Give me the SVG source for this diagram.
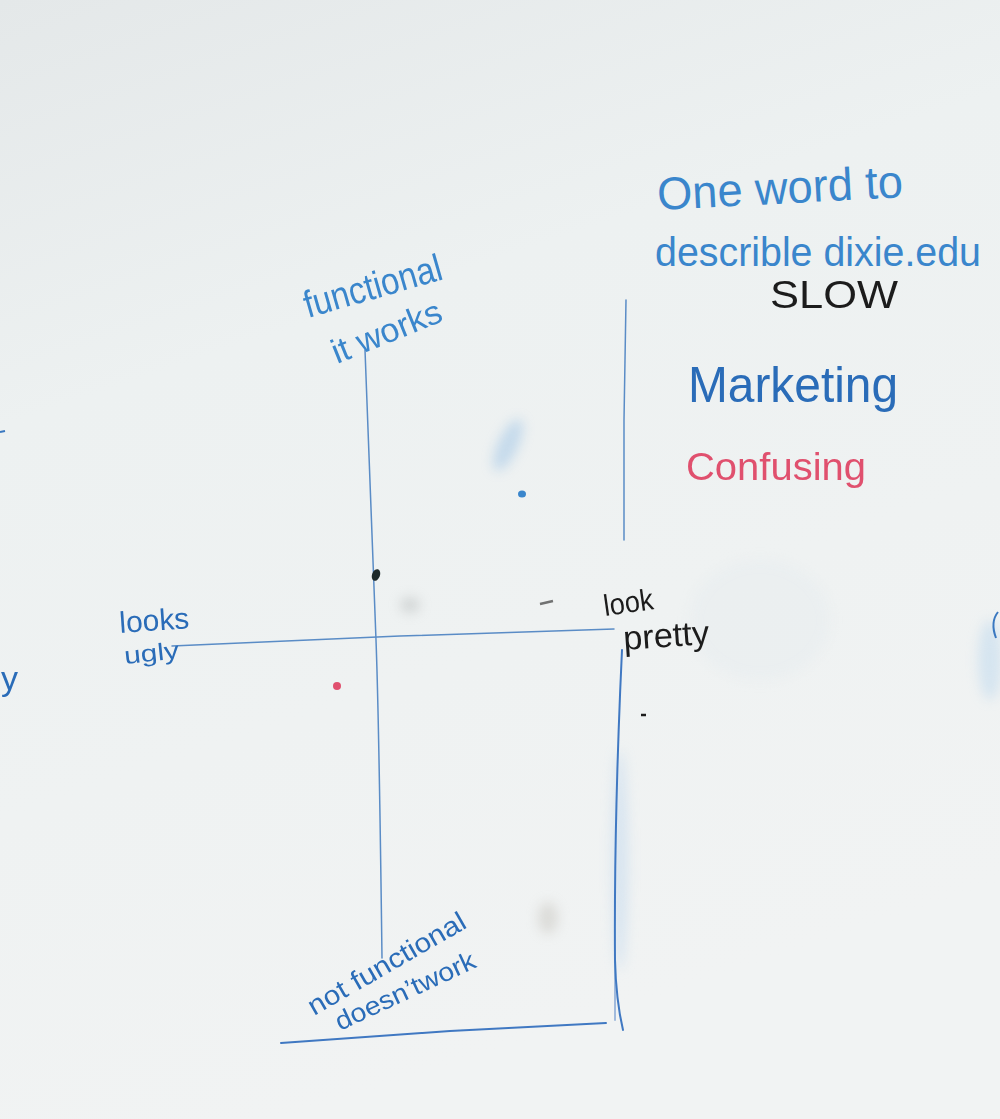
<svg xmlns="http://www.w3.org/2000/svg" width="1000" height="1119" viewBox="0 0 1000 1119">
  <defs>
    <linearGradient id="board" x1="0" y1="0" x2="0.3" y2="1">
      <stop offset="0" stop-color="#e4e8e9"/>
      <stop offset="0.35" stop-color="#edf1f1"/>
      <stop offset="1" stop-color="#f1f3f3"/>
    </linearGradient>
    <filter id="smudge" x="-50%" y="-50%" width="200%" height="200%">
      <feGaussianBlur stdDeviation="6"/>
    </filter>
    <filter id="soft" x="-20%" y="-20%" width="140%" height="140%">
      <feGaussianBlur stdDeviation="0.5"/>
    </filter>
  </defs>
  <style>
    .ink { font-family: "Liberation Sans", "DejaVu Sans", sans-serif; }
    .blue { fill: #3a86cc; }
    .dblue { fill: #2a6cb8; }
    .black { fill: #1c1c1c; }
    .red { fill: #e0506e; }
    .axis { fill: none; stroke: #5a8cc6; stroke-width: 1.5; stroke-linecap: round; }
    .frame { fill: none; stroke: #3f78c2; stroke-width: 2; stroke-linecap: round; }
  </style>

  <!-- whiteboard surface -->
  <rect width="1000" height="1119" fill="url(#board)"/>

  <!-- faint eraser marks -->
  <g filter="url(#smudge)" opacity="0.5">
    <ellipse cx="508" cy="445" rx="10" ry="28" fill="#9cc3e6" transform="rotate(25 508 445)"/>
    <ellipse cx="410" cy="605" rx="10" ry="8" fill="#b7bcbc"/>
    <ellipse cx="548" cy="918" rx="10" ry="16" fill="#c8c6c0"/>
    <ellipse cx="620" cy="860" rx="8" ry="110" fill="#bfd7ee"/>
    <ellipse cx="990" cy="660" rx="12" ry="40" fill="#bcd8ee"/>
    <ellipse cx="760" cy="620" rx="70" ry="60" fill="#e6ecef"/>
  </g>

  <!-- axes and frame lines -->
  <g id="connectors" filter="url(#soft)">
    <path class="axis" d="M365 350 Q373 560 376 640 T382 958"/>
    <path class="axis" d="M172 646 L400 636 L614 629"/>
    <path class="axis" d="M626 300 L624 420 L624 540"/>
    <path class="frame" d="M622 650 Q614 820 615 960 Q616 1000 623 1030"/>
    <path class="frame" d="M615 962 L615 1020" opacity="0.45"/>
    <path class="frame" d="M281 1043 L450 1031 L606 1023"/>
  </g>

  <g id="node-functional">
    <text class="ink blue" font-size="38" textLength="142" lengthAdjust="spacingAndGlyphs" transform="translate(308 318) rotate(-16)">functional</text>
    <text class="ink blue" font-size="34" textLength="116" lengthAdjust="spacingAndGlyphs" transform="translate(337 364) rotate(-22)">it works</text>
  </g>

  <g id="node-not-functional">
    <text class="ink dblue" font-size="27" textLength="178" lengthAdjust="spacingAndGlyphs" transform="translate(314 1016) rotate(-30)">not functional</text>
    <text class="ink dblue" font-size="26" textLength="152" lengthAdjust="spacingAndGlyphs" transform="translate(340 1031) rotate(-25)">doesn’twork</text>
  </g>

  <g id="node-looks-ugly">
    <text class="ink dblue" font-size="30" textLength="70" lengthAdjust="spacingAndGlyphs" transform="translate(120 633) rotate(-4)">looks</text>
    <text class="ink dblue" font-size="24" textLength="55" lengthAdjust="spacingAndGlyphs" transform="translate(125 664) rotate(-6)">ugly</text>
  </g>

  <g id="node-look-pretty">
    <text class="ink black" font-size="30" textLength="50" lengthAdjust="spacingAndGlyphs" transform="translate(605 616) rotate(-8)">look</text>
    <text class="ink black" font-size="34" textLength="86" lengthAdjust="spacingAndGlyphs" transform="translate(624 650) rotate(-4)">pretty</text>
  </g>

  <g id="node-question">
    <text class="ink blue" font-size="46" textLength="246" lengthAdjust="spacingAndGlyphs" transform="translate(658 210) rotate(-3)">One word to</text>
    <text class="ink blue" font-size="36" textLength="326" lengthAdjust="spacingAndGlyphs" transform="translate(655 266) scale(1 1.15)">describle dixie.edu</text>
  </g>

  <g id="node-slow">
    <text class="ink black" font-size="38" textLength="128" lengthAdjust="spacingAndGlyphs" x="770" y="308">SLOW</text>
  </g>

  <g id="node-marketing">
    <text class="ink dblue" font-size="50" textLength="210" lengthAdjust="spacingAndGlyphs" x="688" y="402">Marketing</text>
  </g>

  <g id="node-confusing">
    <text class="ink red" font-size="38" textLength="180" lengthAdjust="spacingAndGlyphs" x="686" y="480">Confusing</text>
  </g>

  <!-- stray marks at the board edges -->
  <g id="node-edge-marks">
    <text class="ink dblue" font-size="34" x="1" y="690">y</text>
    <path d="M0 432 L5 431" stroke="#3a78c0" stroke-width="2" fill="none"/>
    <path d="M998 612 Q990 622 996 638" stroke="#3a78c0" stroke-width="2" fill="none"/>
  </g>

  <!-- marker dots -->
  <g id="node-dots">
    <ellipse cx="376" cy="575" rx="4" ry="6" fill="#1e2a2a" transform="rotate(20 376 575)"/>
    <ellipse cx="522" cy="494" rx="4" ry="3.5" fill="#3a86cc"/>
    <ellipse cx="337" cy="686" rx="4" ry="4" fill="#e0506e"/>
    <path d="M641 715 L646 715" stroke="#1c1c1c" stroke-width="2.5"/>
    <path d="M540 604 L553 601" stroke="#3c3c3c" stroke-width="2.5" opacity="0.7"/>
  </g>
</svg>
